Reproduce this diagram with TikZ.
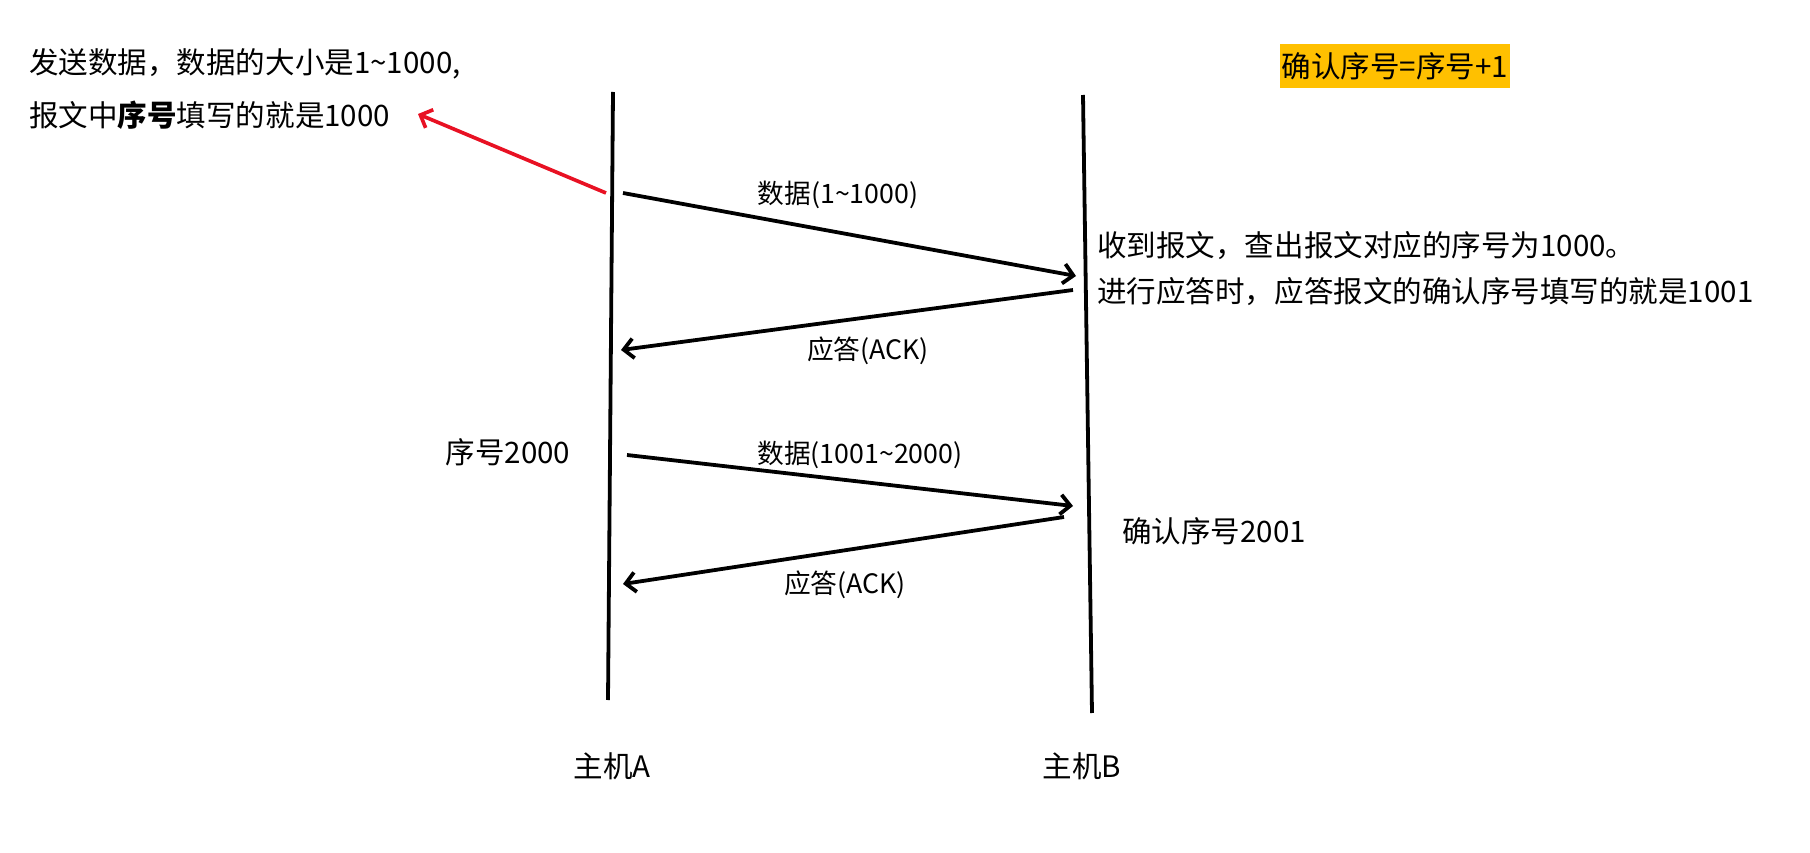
\documentclass[tikz,border=0pt]{standalone}
\usepackage{fontspec}
\setmainfont{Noto Sans CJK SC}
\usepackage{xcolor}
\usepackage{tikz}
\usetikzlibrary{
  arrows.meta,
  positioning,
}
\definecolor{alertred}{HTML}{E81123}
\definecolor{hilite}{HTML}{FFC000}

\begin{document}
\begin{tikzpicture}[
  x=0.025cm, y=-0.025cm,
  every node/.style={inner sep=0pt},
  note/.style={font=\fontsize{21}{26}\selectfont, anchor=west},
  msg/.style={font=\fontsize{19}{23}\selectfont},
  host/.style={font=\fontsize{21}{26}\selectfont},
  hbox/.style={font=\fontsize{21}{26}\selectfont, fill=hilite,
               minimum height=1.1cm, inner xsep=1pt},
  life/.style={line width=2.7pt},
  arrow/.style={-{Straight Barb[length=7pt,width=14pt]}, line width=2.7pt},
  redarrow/.style={-{Straight Barb[length=7pt,width=14pt]}, line width=2.6pt, draw=alertred},
]
\useasboundingbox (0,0) rectangle (1810,853);

% notes
\node[note] (senda) at (29,64)  {发送数据，数据的大小是1\textasciitilde1000,};
\node[note] (sendb) at (29,115) {报文中\textbf{序号}填写的就是1000};
\node[hbox] (rule)  at (1395,66) {确认序号=序号+1};
\node[note] (recva) at (1097,246) {收到报文，查出报文对应的序号为1000。};
\node[note] (recvb) at (1097,292) {进行应答时，应答报文的确认序号填写的就是1001};
\node[note, anchor=center] (seqa) at (508,452) {序号2000};
\node[note, anchor=center] (ackb) at (1214,531) {确认序号2001};

% hosts
\node[host] (hosta) at (612,766) {主机A};
\node[host] (hostb) at (1082,766) {主机B};

\coordinate (atop) at (613,92);  \coordinate (abot) at (608,700);
\coordinate (btop) at (1083,95); \coordinate (bbot) at (1092,713);
\draw[life] (atop) -- (abot);
\draw[life] (btop) -- (bbot);

% messages
\coordinate (d1s) at (623,193);  \coordinate (d1e) at (1076,276);
\coordinate (k1s) at (1073,290); \coordinate (k1e) at (621,350);
\coordinate (d2s) at (627,455);  \coordinate (d2e) at (1073,506);
\coordinate (k2s) at (1064,517); \coordinate (k2e) at (623,584);
\draw[arrow] (d1s) -- (d1e);
\draw[arrow] (k1s) -- (k1e);
\draw[arrow] (d2s) -- (d2e);
\draw[arrow] (k2s) -- (k2e);

\node[msg] (d1lab) at (838,195) {数据(1\textasciitilde1000)};
\node[msg] (k1lab) at (868,351) {应答(ACK)};
\node[msg] (d2lab) at (860,455) {数据(1001\textasciitilde2000)};
\node[msg] (k2lab) at (845,585) {应答(ACK)};

% pointer to note
\coordinate (rs) at (606,193); \coordinate (re) at (418,114);
\draw[redarrow] (rs) -- (re);

\end{tikzpicture}
\end{document}
